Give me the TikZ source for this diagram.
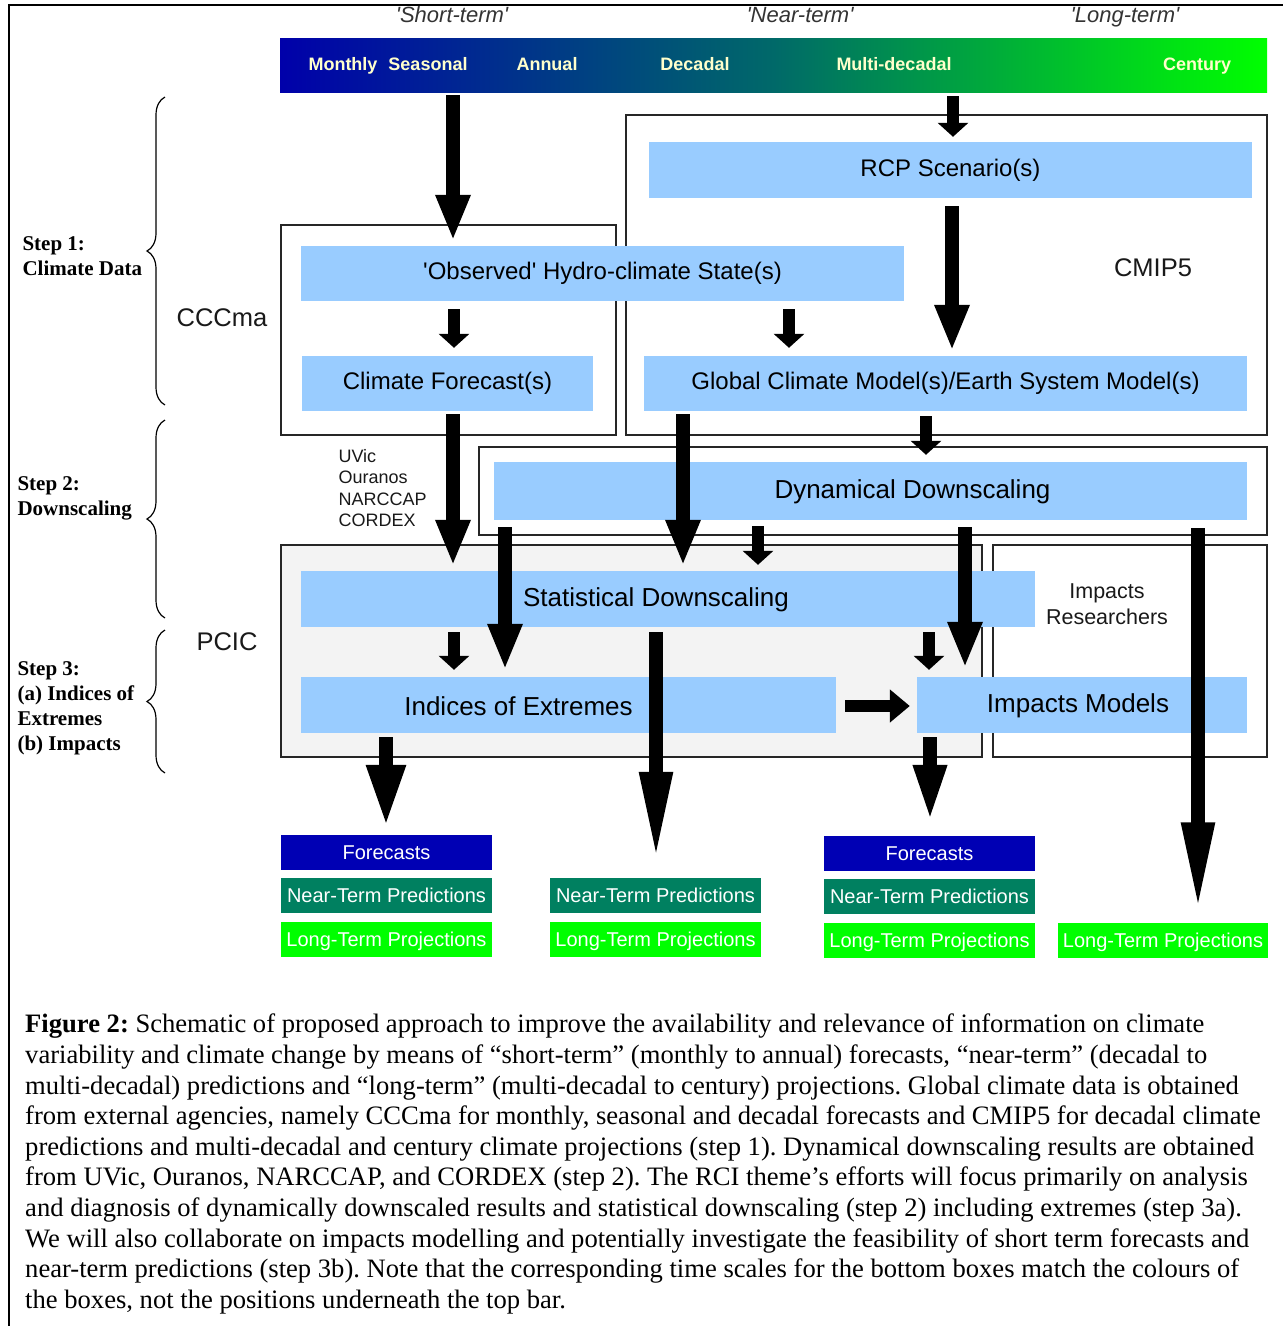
\documentclass[tikz,border=0pt]{standalone}
\usepackage{fontspec}
\setmainfont{Liberation Serif}
\setsansfont{Liberation Sans}
\usetikzlibrary{arrows.meta,decorations.pathreplacing,calc}
\definecolor{boxblue}{HTML}{99CCFF}
\definecolor{fcblue}{HTML}{0000B4}
\definecolor{ntgreen}{HTML}{008060}
\definecolor{ltgreen}{HTML}{00FF00}
\definecolor{pcicgray}{HTML}{F3F3F3}
\definecolor{barlabel}{HTML}{FFFFCC}
\definecolor{termgray}{HTML}{333333}
\definecolor{barleft}{RGB}{0,0,170}
\definecolor{barmid}{RGB}{0,105,105}
\definecolor{barright}{RGB}{0,255,0}
\tikzset{
  bluebox/.style={fill=boxblue, inner sep=0pt, font=\sffamily\fontsize{24}{29}\selectfont},
  lowfont/.style={font=\sffamily\fontsize{26}{30}\selectfont},
  framebox/.style={draw=black!85, line width=1.8pt, inner sep=0pt},
  botbox/.style={inner sep=0pt, minimum width=211pt, minimum height=35pt, text height=14pt, text depth=0pt, text=white, font=\sffamily\fontsize{20}{24}\selectfont},
  barlab/.style={anchor=base, text=barlabel, font=\sffamily\bfseries\fontsize{18}{22}\selectfont},
  termlab/.style={anchor=base, text=termgray, font=\sffamily\itshape\fontsize{22}{26}\selectfont},
  biglab/.style={text=black!90, font=\sffamily\fontsize{25.5}{30}\selectfont},
  steplab/.style={anchor=west, align=left, font=\bfseries\fontsize{21}{25}\selectfont},
  bracepath/.style={decorate, decoration={brace, amplitude=18pt}, line width=1.2pt},
  smallarr/.style={line width=12pt, -{Triangle[width=30pt,length=14pt]}},
  bigarr/.style={line width=14pt, -{Triangle[width=32pt,length=46pt]}},
  longarr/.style={line width=14pt, -{Triangle[width=30pt,length=90pt]}},
  midarr/.style={line width=14pt, -{Triangle[width=36pt,length=62pt]}},
}
\begin{document}
\begin{tikzpicture}[x=1pt, y=-1pt]
\useasboundingbox (0,0) rectangle (1283,1326);
% outer frame
\draw[line width=2.5pt] (9,1326) -- (9,5) -- (1283,5);

% top bar
\node[inner sep=0pt, minimum width=987pt, minimum height=54pt, left color=barleft, right color=barright, middle color=barmid] (bar) at (773.5,65) {};
\node[barlab] (lmon) at (343,70.5) {Monthly};
\node[barlab] (lsea) at (428,70.5) {Seasonal};
\node[barlab] (lann) at (547,70.5) {Annual};
\node[barlab] (ldec) at (695,70.5) {Decadal};
\node[barlab] (lmul) at (894,70.5) {Multi-decadal};
\node[barlab] (lcen) at (1197,70.5) {Century};
\node[termlab] (tshort) at (452,22) {\textquotesingle Short-term\textquotesingle};
\node[termlab] (tnear) at (800,22) {\textquotesingle Near-term\textquotesingle};
\node[termlab] (tlong) at (1125,22) {\textquotesingle Long-term\textquotesingle};

% frames
\node[framebox, minimum width=335pt, minimum height=210pt] (cccma) at (448.5,330) {};
\node[framebox, minimum width=641pt, minimum height=320pt] (cmip) at (946.5,275) {};
\node[framebox, minimum width=788pt, minimum height=88pt] (dynbox) at (873,491) {};
\node[framebox, fill=pcicgray, minimum width=701pt, minimum height=212pt] (pcic) at (631.5,651) {};
\node[framebox, minimum width=274pt, minimum height=212pt] (impbox) at (1130,651) {};

% labels
\node[biglab] (lcccma) at (222,318) {CCCma};
\node[biglab] (lcmip) at (1153,268) {CMIP5};
\node[biglab] (lpcic) at (227,642) {PCIC};
\node[anchor=west, align=left, text=black!90, font=\sffamily\fontsize{18}{21.3}\selectfont] (lrcm) at (335,488) {UVic\\Ouranos\\NARCCAP\\CORDEX};
\node[align=center, text=black!90, font=\sffamily\fontsize{21.5}{26}\selectfont] (lres) at (1107,604) {Impacts\\Researchers};

% blue boxes
\node[bluebox, minimum width=603pt, minimum height=56pt] (rcp) at (950.5,170) {RCP Scenario(s)};
\node[bluebox, minimum width=603pt, minimum height=55pt] (obs) at (602.5,273.5) {\textquotesingle Observed\textquotesingle\ Hydro-climate State(s)};
\node[bluebox, minimum width=291pt, minimum height=55pt] (cf) at (447.5,383.5) {Climate Forecast(s)};
\node[bluebox, minimum width=603pt, minimum height=55pt] (gcm) at (945.5,383.5) {Global Climate Model(s)/Earth System Model(s)};
\node[bluebox, minimum width=753pt, minimum height=58pt, label={[xshift=42pt, yshift=-1pt, lowfont]center:Dynamical Downscaling}] (dyn) at (870.5,491) {};
\node[bluebox, minimum width=734pt, minimum height=56pt, label={[xshift=-12pt, yshift=-1pt, lowfont]center:Statistical Downscaling}] (stat) at (668,599) {};
\node[bluebox, minimum width=535pt, minimum height=56pt, label={[xshift=-50pt, yshift=-1pt, lowfont]center:Indices of Extremes}] (ind) at (568.5,705) {};
\node[bluebox, minimum width=330pt, minimum height=56pt, label={[xshift=-4pt, yshift=-1pt, lowfont]center:Impacts Models}] (imp) at (1082,705) {};

% bottom boxes
\node[botbox, fill=fcblue] (f1) at (386.5,852.5) {Forecasts};
\node[botbox, fill=ntgreen] (n1) at (386.5,895.5) {Near-Term Predictions};
\node[botbox, fill=ltgreen] (p1) at (386.5,939.5) {Long-Term Projections};
\node[botbox, fill=ntgreen] (n2) at (655.5,895.5) {Near-Term Predictions};
\node[botbox, fill=ltgreen] (p2) at (655.5,939.5) {Long-Term Projections};
\node[botbox, fill=fcblue] (f3) at (929.5,853.5) {Forecasts};
\node[botbox, fill=ntgreen] (n3) at (929.5,896.5) {Near-Term Predictions};
\node[botbox, fill=ltgreen] (p3) at (929.5,940) {Long-Term Projections};
\node[botbox, fill=ltgreen, minimum width=210pt] (p4) at (1163,940) {Long-Term Projections};

% arrow columns
\coordinate (xa) at (453,0);
\coordinate (xb) at (953,0);
\coordinate (xc) at (454,0);
\coordinate (xd) at (789,0);
\coordinate (xe) at (952,0);
\coordinate (xf) at (926,0);
\coordinate (xg) at (683,0);
\coordinate (xh) at (758,0);
\coordinate (xi) at (505,0);
\coordinate (xj) at (965,0);
\coordinate (xk) at (1198,0);
\coordinate (xl) at (929,0);
\coordinate (xm) at (656,0);
\coordinate (xn) at (386,0);
\coordinate (xo) at (930,0);
\coordinate (ya) at (0,706);

% arrows
\draw[bigarr, shorten <=3pt, shorten >=5pt] (xa |- bar.south) -- (xa |- obs.north);
\draw[smallarr, shorten <=4pt, shorten >=5pt] (xb |- bar.south) -- (xb |- rcp.north);
\draw[smallarr, shorten <=8pt, shorten >=8pt] (xc |- obs.south) -- (xc |- cf.north);
\draw[smallarr, shorten <=8pt, shorten >=8pt] (xd |- obs.south) -- (xd |- gcm.north);
\draw[bigarr, shorten <=8pt, shorten >=5pt] (xe |- rcp.south) -- (xe |- gcm.north);
\draw[bigarr, shorten <=3pt, shorten >=5pt] (xa |- cf.south) -- (xa |- stat.north);
\draw[smallarr, shorten <=5pt, shorten >=7pt] (xf |- gcm.south) -- (xf |- dyn.north);
\draw[bigarr, shorten <=3pt, shorten >=5pt] (xg |- gcm.south) -- (xg |- stat.north);
\draw[smallarr, shorten <=6pt, shorten >=6pt] (xh |- dyn.south) -- (xh |- stat.north);
\draw[bigarr, shorten <=7pt, shorten >=7pt] (xi |- dyn.south) -- (xi |- ind.north);
\draw[bigarr, shorten <=7pt, shorten >=9pt] (xj |- dyn.south) -- (xj |- imp.north);
\draw[longarr, shorten <=8pt, shorten >=10pt] (xk |- dyn.south) -- (xk |- p4.north);
\draw[smallarr, shorten <=5pt, shorten >=7pt] (xc |- stat.south) -- (xc |- ind.north);
\draw[smallarr, shorten <=5pt, shorten >=7pt] (xl |- stat.south) -- (xl |- imp.north);
\draw[longarr, shorten <=5pt, shorten >=16pt] (xm |- stat.south) -- (xm |- n2.north);
\draw[smallarr, line width=12pt, -{Triangle[width=32pt,length=20pt]}, shorten <=9pt, shorten >=7pt] (ind.east |- ya) -- (imp.west |- ya);
\draw[midarr, shorten <=4pt, shorten >=8pt] (xn |- ind.south) -- (xn |- f1.north);
\draw[midarr, -{Triangle[width=30pt,length=58pt]}, shorten <=4pt, shorten >=13pt] (xo |- imp.south) -- (xo |- f3.north);

% braces
\draw[bracepath] (165,405) -- (165,97);
\draw[bracepath] (165,618) -- (165,420);
\draw[bracepath] (165,773) -- (165,630);
\node[steplab] (s1) at (19,256) {Step 1:\\Climate Data};
\node[steplab] (s2) at (14,498) {Step 2:\\Downscaling};
\node[steplab] (s3) at (14,708) {Step 3:\\(a) Indices of\\Extremes\\(b) Impacts};

% caption
\node[anchor=north west, align=left, inner sep=0pt, font=\frenchspacing\fontsize{26.6}{30.6}\selectfont] (cap) at (25,1014) {%
\textbf{Figure 2:} Schematic of proposed approach to improve the availability and relevance of information on climate\\
variability and climate change by means of “short-term” (monthly to annual) forecasts, “near-term” (decadal to\\
multi-decadal) predictions and “long-term” (multi-decadal to century) projections. Global climate data is obtained\\
from external agencies, namely CCCma for monthly, seasonal and decadal forecasts and CMIP5 for decadal climate\\
predictions and multi-decadal and century climate projections (step 1). Dynamical downscaling results are obtained\\
from UVic, Ouranos, NARCCAP, and CORDEX (step 2). The RCI theme’s efforts will focus primarily on analysis\\
and diagnosis of dynamically downscaled results and statistical downscaling (step 2) including extremes (step 3a).\\
We will also collaborate on impacts modelling and potentially investigate the feasibility of short term forecasts and\\
near-term predictions (step 3b). Note that the corresponding time scales for the bottom boxes match the colours of\\
the boxes, not the positions underneath the top bar.};
\end{tikzpicture}
\end{document}
